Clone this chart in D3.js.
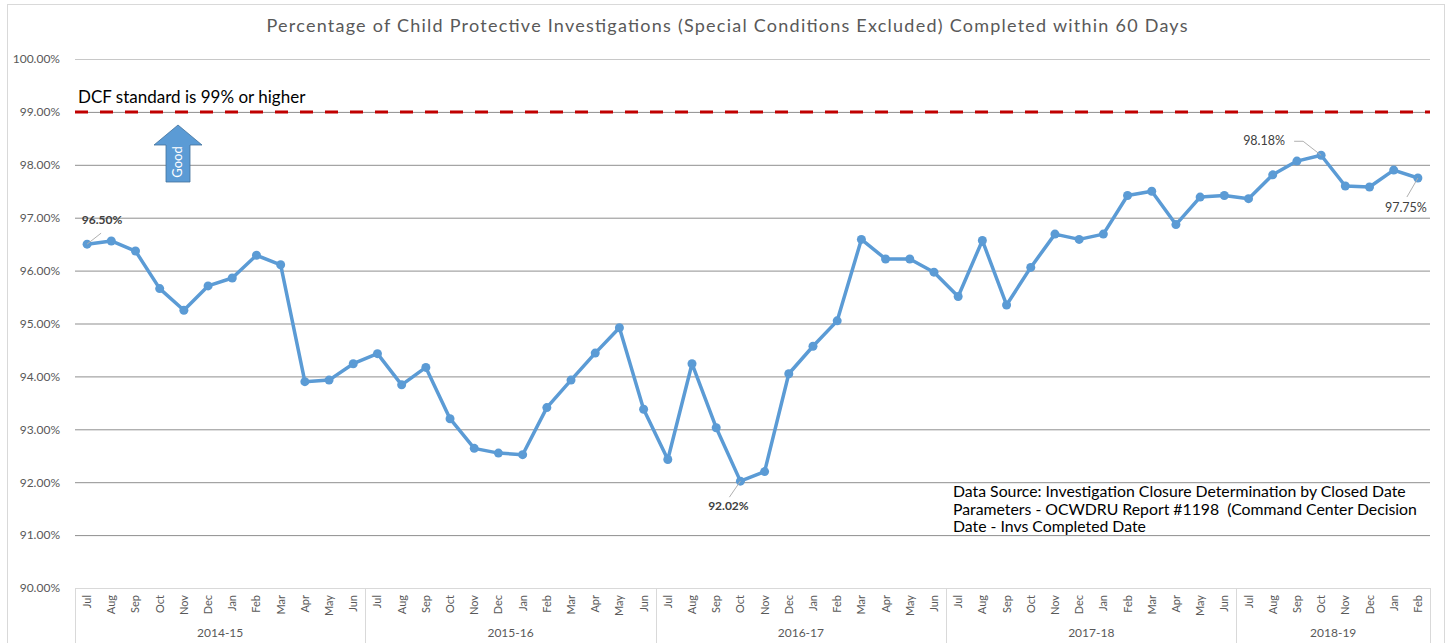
<!DOCTYPE html>
<html>
<head>
<meta charset="utf-8">
<script src="https://cdn.jsdelivr.net/npm/d3@7.9.0/dist/d3.min.js"></script>
<style>
  body { margin: 0; background: #fff; }
  svg { display: block; font-family: Lato, "Open Sans", sans-serif; }
</style>
</head>
<body>
<div id="chart"></div>
<script>
// fiscal years and the months in each
const fiscalYears = ['2014-15', '2015-16', '2016-17', '2017-18', '2018-19'];
const fullYear = ['Jul', 'Aug', 'Sep', 'Oct', 'Nov', 'Dec', 'Jan', 'Feb', 'Mar', 'Apr', 'May', 'Jun'];
const monthsPerYear = [12, 12, 12, 12, 8];

// percent completed within 60 days
const fy1415 = [96.50, 96.56, 96.37, 95.66, 95.25, 95.71, 95.86, 96.29, 96.11, 93.90, 93.93, 94.24];
const fy1516 = [94.43, 93.84, 94.17, 93.20, 92.64, 92.55, 92.52, 93.41, 93.93, 94.44, 94.92, 93.38];
const fy1617 = [92.43, 94.24, 93.03, 92.02, 92.20, 94.05, 94.57, 95.05, 96.59, 96.22, 96.22, 95.97];
const fy1718 = [95.51, 96.57, 95.35, 96.06, 96.69, 96.59, 96.69, 97.42, 97.50, 96.87, 97.39, 97.42];
const fy1819 = [97.36, 97.81, 98.07, 98.18, 97.60, 97.58, 97.90, 97.75];
const yearValues = [fy1415, fy1516, fy1617, fy1718, fy1819];

const yTicks = [90, 91, 92, 93, 94, 95, 96, 97, 98, 99, 100];
const standard = 99;
const labelled = ['2014-15|Jul', '2016-17|Oct', '2018-19|Oct', '2018-19|Feb'];

const title = 'Percentage of Child Protective Investigations (Special Conditions Excluded) Completed within 60 Days';
const sourceLines = [
    'Data Source: Investigation Closure Determination by Closed Date',
    'Parameters - OCWDRU Report #1198  (Command Center Decision',
    'Date - Invs Completed Date'
];

const width = 1450;
const height = 643;
const plot = { left: 75, right: 1430, top: 59, bottom: 588 };
const blue = '#5B9BD5';

const points = [];
fiscalYears.forEach((fy, i) => {
    yearValues[i].forEach((v, j) => {
        points.push({ key: fy + '|' + fullYear[j], fy, month: fullYear[j], value: v });
    });
});

const svg = d3.select('#chart').append('svg')
    .attr('width', width)
    .attr('height', height);

svg.append('rect')
    .attr('x', 7.5).attr('y', 4.5)
    .attr('width', 1437).attr('height', 650)
    .attr('fill', '#fff')
    .attr('stroke', '#d9d9d9');

svg.append('text')
    .attr('x', 727).attr('y', 32)
    .attr('text-anchor', 'middle')
    .attr('font-size', 18)
    .attr('fill', '#595959')
    .attr('textLength', 921)
    .text(title);

const x = d3.scaleBand()
    .domain(points.map(d => d.key))
    .range([plot.left, plot.right]);

const y = d3.scaleLinear()
    .domain([90, 100])
    .range([plot.bottom, plot.top]);

// gridlines + labels
const yAxis = svg.append('g')
    .attr('transform', `translate(${plot.left},0)`)
    .call(d3.axisLeft(y)
        .tickValues(yTicks)
        .tickFormat(d => d.toFixed(2) + '%')
        .tickSizeInner(-(plot.right - plot.left))
        .tickSizeOuter(0)
        .tickPadding(15));
yAxis.select('.domain').remove();
yAxis.selectAll('.tick line')
    .attr('stroke', d => (d === 90 || d === 100) ? '#c8c8c8' : '#8f8f8f');
yAxis.selectAll('.tick text')
    .attr('font-size', 12)
    .attr('font-family', 'Lato, "Open Sans", sans-serif')
    .attr('fill', '#595959');

// category axis box
const axisG = svg.append('g').attr('class', 'x-axis');
axisG.append('line')
    .attr('x1', plot.left).attr('x2', plot.right)
    .attr('y1', plot.bottom + 0.5).attr('y2', plot.bottom + 0.5)
    .attr('stroke', '#d9d9d9');

let start = 0;
const bounds = [x(points[0].key)];
fiscalYears.forEach((fy, i) => {
    const n = monthsPerYear[i];
    const x0 = x(points[start].key);
    const x1 = x(points[start + n - 1].key) + x.bandwidth();
    bounds.push(x1);
    axisG.append('text')
        .attr('x', (x0 + x1) / 2).attr('y', 637)
        .attr('text-anchor', 'middle')
        .attr('font-size', 12)
        .attr('fill', '#595959')
        .text(fy);
    start += n;
});
bounds.forEach(b => {
    axisG.append('line')
        .attr('x1', Math.round(b) + 0.5).attr('x2', Math.round(b) + 0.5)
        .attr('y1', plot.bottom).attr('y2', height)
        .attr('stroke', '#d9d9d9');
});

axisG.selectAll('text.month')
    .data(points)
    .join('text')
    .attr('class', 'month')
    .attr('transform', d => `translate(${x(d.key) + x.bandwidth() / 2 + 4},595) rotate(-90)`)
    .attr('text-anchor', 'end')
    .attr('font-size', 11)
    .attr('fill', '#595959')
    .text(d => d.month);

// standard line
svg.append('line')
    .attr('x1', plot.left).attr('x2', plot.right)
    .attr('y1', y(standard)).attr('y2', y(standard))
    .attr('stroke', '#C00000')
    .attr('stroke-width', 3)
    .attr('stroke-dasharray', '13 12');

svg.append('text')
    .attr('x', 78).attr('y', 103)
    .attr('font-size', 17)
    .attr('fill', '#000')
    .text('DCF standard is 99% or higher');

// "Good" arrow
const arrow = svg.append('g').attr('transform', 'translate(178,0)');
arrow.append('path')
    .attr('d', 'M0,125 L24,145 L12,145 L12,182 L-12,182 L-12,145 L-24,145 Z')
    .attr('fill', blue)
    .attr('stroke', '#41719C')
    .attr('stroke-width', 0.8);
arrow.append('text')
    .attr('transform', 'translate(4,162) rotate(-90)')
    .attr('text-anchor', 'middle')
    .attr('font-size', 13)
    .attr('fill', '#fff')
    .text('Good');

// series
const line = d3.line()
    .x(d => x(d.key) + x.bandwidth() / 2)
    .y(d => y(d.value));

svg.append('path')
    .datum(points)
    .attr('d', line)
    .attr('fill', 'none')
    .attr('stroke', blue)
    .attr('stroke-width', 3.5)
    .attr('stroke-linejoin', 'round');

svg.append('g')
    .selectAll('circle')
    .data(points)
    .join('circle')
    .attr('cx', d => x(d.key) + x.bandwidth() / 2)
    .attr('cy', d => y(d.value))
    .attr('r', 4.5)
    .attr('fill', blue);

// data labels with leader lines (offsets in px)
const labelOffsets = {
    '2014-15|Jul': { dx: 15, dy: -20, bold: true, leader: [[0, 0], [14, -11]] },
    '2016-17|Oct': { dx: -12, dy: 29, bold: true, leader: [[0, 0], [-11, 16]] },
    '2018-19|Oct': { dx: -57, dy: -10, bold: false, leader: [[0, 0], [-18, -14], [-27, -14]] },
    '2018-19|Feb': { dx: -12, dy: 34, bold: false, leader: [[0, 0], [-11, 19]] }
};
points.filter(d => labelled.includes(d.key)).forEach(d => {
    const o = labelOffsets[d.key];
    const cx = x(d.key) + x.bandwidth() / 2;
    const cy = y(d.value);
    svg.append('path')
        .attr('d', d3.line()(o.leader.map(p => [cx + p[0], cy + p[1]])))
        .attr('fill', 'none')
        .attr('stroke', '#b0b0b0')
        .attr('stroke-width', 1);
    svg.append('text')
        .attr('x', cx + o.dx).attr('y', cy + o.dy)
        .attr('text-anchor', 'middle')
        .attr('font-size', o.bold ? 12 : 12.5)
        .attr('font-weight', o.bold ? 'bold' : 'normal')
        .attr('fill', '#404040')
        .text(d.value.toFixed(2) + '%');
});

// data source note
svg.append('g')
    .selectAll('text')
    .data(sourceLines)
    .join('text')
    .attr('x', 953)
    .attr('y', (d, i) => 497 + i * 17.5)
    .attr('font-size', 15.8)
    .attr('fill', '#000')
    .style('white-space', 'pre')
    .text(d => d);
</script>
</body>
</html>
